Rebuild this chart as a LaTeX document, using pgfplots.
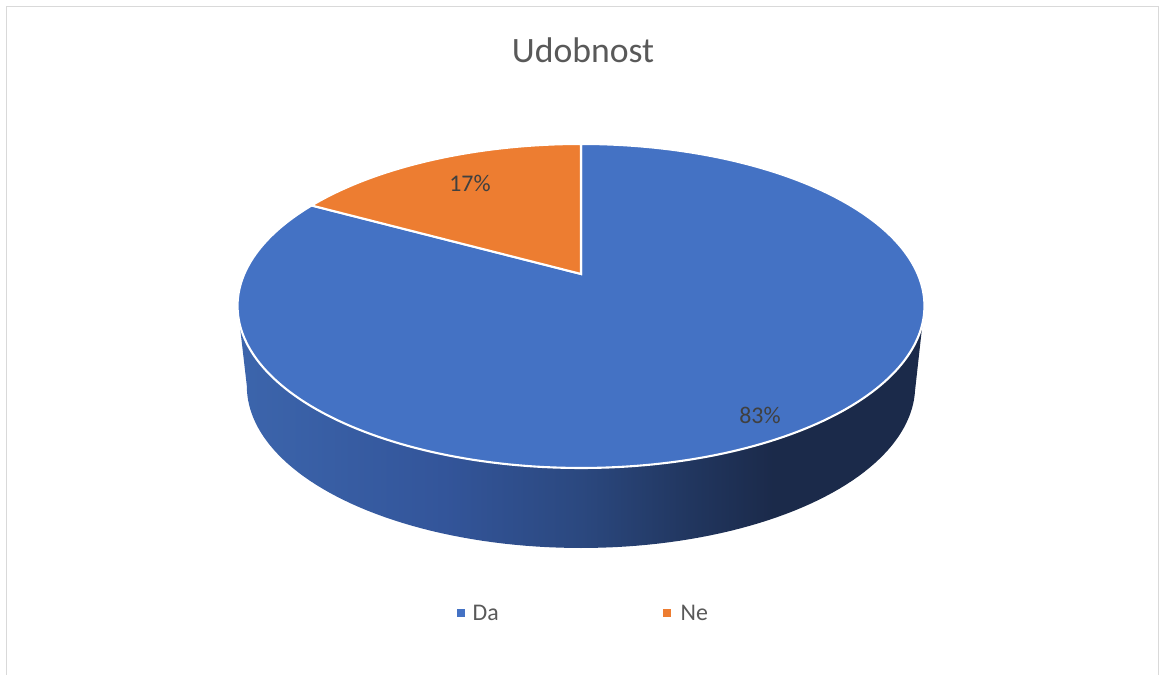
\documentclass[border=0pt]{standalone}
\usepackage{pgfplots}
\pgfplotsset{compat=1.18}
\usepackage{fontspec}
\setmainfont{Carlito}
\definecolor{cDa}{HTML}{4472C4}
\definecolor{cNe}{HTML}{ED7D31}
\definecolor{titlec}{HTML}{595959}
\definecolor{labc}{HTML}{404040}
\definecolor{framec}{HTML}{D9D9D9}
\definecolor{s1}{HTML}{3C65AC}
\definecolor{s2}{HTML}{33559A}
\definecolor{s3}{HTML}{2B487F}
\definecolor{s4}{HTML}{21365F}
\definecolor{s5}{HTML}{1B2A4A}
\pgfdeclarehorizontalshading{sideshade}{100bp}{color(0bp)=(s1); color(25bp)=(s1); color(40bp)=(s2); color(50bp)=(s3); color(58bp)=(s4); color(64bp)=(s5); color(100bp)=(s5)}
% data
\def\valDa{83}
\def\valNe{17}
% geometry of the 3D pie (pixel units)
\def\cx{581}
\def\cy{401}
\def\pS{336.7}
\def\pT{155.7}
\def\pk{0.1975}
\pgfmathsetmacro\thSplit{90+360*\valNe/(\valDa+\valNe)}
\pgfmathsetmacro\thL{180+asin(\pk)}
\pgfmathsetmacro\thR{360-asin(\pk)}
\pgfmathsetmacro\spn{\thR-\thL}
\begin{document}
\begin{tikzpicture}
\begin{axis}[width=11.6cm,height=6.75cm,scale only axis,
  xmin=0,xmax=1160,ymin=0,ymax=675,axis lines=none,clip=false]
\path (axis cs:0,0) rectangle (axis cs:1160,675);
\draw[framec, line width=0.45pt] (axis cs:6.5,0) -- (axis cs:6.5,668.5) -- (axis cs:1158.5,668.5) -- (axis cs:1158.5,0);
% side of the pie
\addplot[draw=none, shade, shading=sideshade, domain=0:2, samples=201, variable=\t]
 ({\t<=1 ? \cx+\pS*cos(\thL+\t*\spn)/(1+\pk*sin(\thL+\t*\spn)) : \cx+0.973*\pS*cos(\thR-(\t-1)*\spn)/(1+\pk*sin(\thR-(\t-1)*\spn))},
  {\t<=1 ? \cy+\pT*sin(\thL+\t*\spn)/(1+\pk*sin(\thL+\t*\spn)) : \cy-80+\pT*sin(\thR-(\t-1)*\spn)/(1+\pk*sin(\thR-(\t-1)*\spn))});
% top: Da wedge
\addplot[fill=cDa, draw=white, line width=0.6pt, domain=\thSplit:450, samples=240, variable=\t]
 ({\cx+\pS*cos(\t)/(1+\pk*sin(\t))},{\cy+\pT*sin(\t)/(1+\pk*sin(\t))}) -- (axis cs:\cx,\cy) -- cycle;
% top: Ne wedge
\addplot[fill=cNe, draw=white, line width=0.6pt, domain=90:\thSplit, samples=60, variable=\t]
 ({\cx+\pS*cos(\t)/(1+\pk*sin(\t))},{\cy+\pT*sin(\t)/(1+\pk*sin(\t))}) -- (axis cs:\cx,\cy) -- cycle;
% labels
\node[font=\fontsize{6.8}{8}\selectfont, text=labc] at (axis cs:470,492) {17\%};
\node[font=\fontsize{6.8}{8}\selectfont, text=labc] at (axis cs:760,260) {83\%};
\node[font=\fontsize{10.15}{12}\selectfont, text=titlec] at (axis cs:583,624.5) {Udobnost};
% legend
\node[anchor=base west, inner sep=0pt, font=\fontsize{6.8}{8}\selectfont, text=titlec] at (axis cs:456,54.3)
 {\textcolor{cDa}{\rule[0.37mm]{0.8mm}{0.8mm}}\hspace{0.8mm}Da};
\node[anchor=base west, inner sep=0pt, font=\fontsize{6.8}{8}\selectfont, text=titlec] at (axis cs:662,54.3)
 {\textcolor{cNe}{\rule[0.37mm]{0.8mm}{0.8mm}}\hspace{1.0mm}Ne};
\end{axis}
\end{tikzpicture}
\end{document}
